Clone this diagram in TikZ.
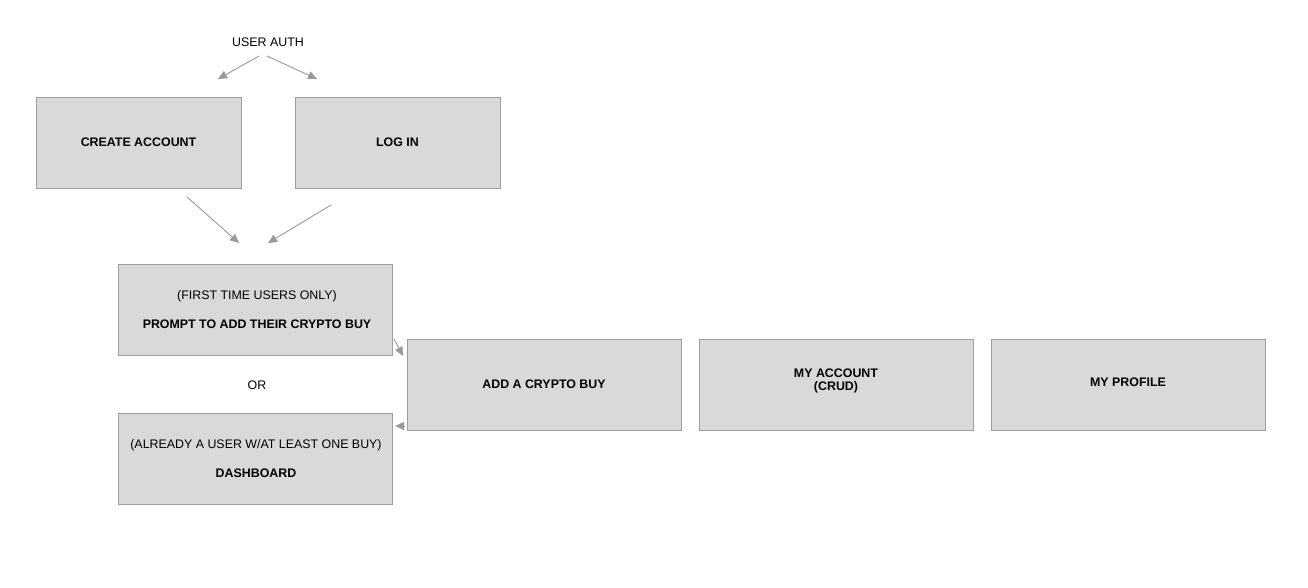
\documentclass[tikz,border=0pt]{standalone}
\usepackage{fontspec}
\setmainfont{Liberation Sans}
\usetikzlibrary{arrows.meta}
\definecolor{boxfill}{HTML}{D9D9D9}
\definecolor{boxline}{HTML}{9E9E9E}
\definecolor{arrowgray}{HTML}{999999}
\tikzset{
  screen/.style={draw=boxline, fill=boxfill, line width=0.8pt, minimum width=274pt, minimum height=91pt, inner sep=0pt, align=center, font=\fontsize{12.4}{14}\selectfont\bfseries},
  flow/.style={-{Triangle[length=9pt,width=8pt]}, draw=arrowgray, color=arrowgray, line width=0.9pt},
  plain/.style={font=\fontsize{12.4}{14}\selectfont}
}
\begin{document}
\begin{tikzpicture}[x=1pt, y=-1pt]
\useasboundingbox (0,0) rectangle (1308,587);

\node[plain] (auth) at (268,42) {USER AUTH};
\node[screen, minimum width=205pt] (create) at (138.5,142.5) {CREATE ACCOUNT};
\node[screen, minimum width=205pt] (login) at (397.5,142.5) {LOG IN};

\node[screen] (prompt) at (255,309.5) {};
\node[plain] (first) at (257,296.5) {(FIRST TIME USERS ONLY)};
\node[plain, font=\fontsize{12.4}{14}\selectfont\bfseries] (promptlbl) at (257,324) {PROMPT TO ADD THEIR CRYPTO BUY};

\node[plain] (or) at (257,385) {OR};

\node[screen] (dash) at (255,458.5) {};
\node[plain] (already) at (256,445) {(ALREADY A USER W/AT LEAST ONE BUY)};
\node[plain, font=\fontsize{12.4}{14}\selectfont\bfseries] (dashlbl) at (256,473) {DASHBOARD};

\node[screen] (addbuy) at (544,384.5) {ADD A CRYPTO BUY};
\node[screen] (account) at (836,384.5) {};
\node[plain, align=center, font=\fontsize{12.4}{13}\selectfont\bfseries] (acctlbl) at (836,381) {MY ACCOUNT\\(CRUD)};
\node[screen] (profile) at (1128,384.5) {};
\node[plain, font=\fontsize{12.4}{14}\selectfont\bfseries] (proflbl) at (1128,382) {MY PROFILE};

% arrow ends
\coordinate (a1) at (259,56);
\coordinate (a2) at (218,79);
\coordinate (a3) at (267,56);
\coordinate (a4) at (317,79);
\coordinate (b1) at (187,197);
\coordinate (b2) at (239,243);
\coordinate (b3) at (331,205);
\coordinate (b4) at (268,243);
\coordinate (c1) at (394,339);
\coordinate (c2) at (403,356);
\coordinate (d1) at (404,426);
\coordinate (d2) at (395,426);

\draw[flow] (a1) -- (a2);
\draw[flow] (a3) -- (a4);
\draw[flow] (b1) -- (b2);
\draw[flow] (b3) -- (b4);
\draw[flow] (c1) -- (c2);
\draw[flow] (d1) -- (d2);

\end{tikzpicture}
\end{document}
